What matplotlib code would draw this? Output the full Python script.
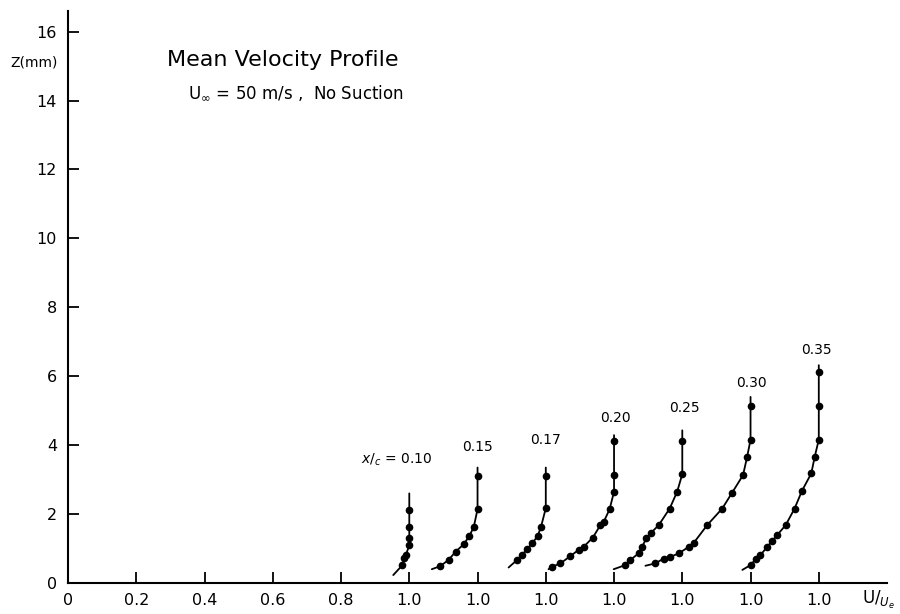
import matplotlib
matplotlib.use("Agg")
import matplotlib.pyplot as plt

# Station labels (x/c) and the U/Ue = 1.0 position of each shifted profile
stations = ["0.10", "0.15", "0.17", "0.20", "0.25", "0.30", "0.35"]
offsets = [0.0, 0.2, 0.4, 0.6, 0.8, 1.0, 1.2]

# Each profile: U/Ue and Z (mm); first and last entries are the ends of the
# drawn curve, the rest are measured points.
u_010 = [0.953, 0.98, 0.985, 0.99, 1.0, 1.0, 1.0, 1.0, 1.0]
z_010 = [0.23, 0.52, 0.72, 0.81, 1.10, 1.30, 1.62, 2.12, 2.60]

u_015 = [0.866, 0.891, 0.915, 0.936, 0.959, 0.976, 0.989, 1.0, 1.0, 1.0]
z_015 = [0.40, 0.49, 0.67, 0.91, 1.12, 1.36, 1.63, 2.14, 3.11, 3.35]

u_017 = [0.891, 0.916, 0.93, 0.945, 0.96, 0.976, 0.986, 1.0, 1.0, 1.0]
z_017 = [0.45, 0.67, 0.81, 0.98, 1.15, 1.36, 1.63, 2.17, 3.11, 3.35]

u_020 = [0.808, 0.818, 0.843, 0.872, 0.896, 0.911, 0.938, 0.96, 0.970, 0.987,
         1.0, 1.0, 1.0, 1.0]
z_020 = [0.40, 0.47, 0.57, 0.78, 0.96, 1.05, 1.32, 1.68, 1.78, 2.14,
         2.65, 3.13, 4.12, 4.29]

u_025 = [0.799, 0.833, 0.848, 0.872, 0.882, 0.895, 0.907, 0.931, 0.963, 0.985,
         1.0, 1.0, 1.0]
z_025 = [0.40, 0.52, 0.67, 0.86, 1.05, 1.30, 1.44, 1.68, 2.16, 2.65,
         3.16, 4.12, 4.43]

u_030 = [0.692, 0.721, 0.746, 0.765, 0.790, 0.819, 0.834, 0.873, 0.917, 0.946,
         0.978, 0.990, 1.0, 1.0, 1.0]
z_030 = [0.50, 0.57, 0.71, 0.76, 0.86, 1.05, 1.17, 1.68, 2.16, 2.62,
         3.13, 3.66, 4.16, 5.13, 5.40]

u_035 = [0.776, 0.800, 0.815, 0.829, 0.849, 0.864, 0.878, 0.903, 0.929, 0.951,
         0.978, 0.988, 1.0, 1.0, 1.0, 1.0]
z_035 = [0.38, 0.52, 0.69, 0.81, 1.05, 1.23, 1.39, 1.68, 2.16, 2.68,
         3.18, 3.66, 4.16, 5.13, 6.12, 6.32]

profiles_u = [u_010, u_015, u_017, u_020, u_025, u_030, u_035]
profiles_z = [z_010, z_015, z_017, z_020, z_025, z_030, z_035]

x_tick_pos = [0.0, 0.2, 0.4, 0.6, 0.8, 1.0, 1.2, 1.4, 1.6, 1.8, 2.0, 2.2]
x_tick_lab = ["0", "0.2", "0.4", "0.6", "0.8", "1.0", "1.0", "1.0", "1.0",
              "1.0", "1.0", "1.0"]
y_ticks = [0, 2, 4, 6, 8, 10, 12, 14, 16]

# Label centre (U/Ue offset from profile's 1.0, Z) for each station label
label_du = [-0.038, 0.0, 0.0, 0.004, 0.006, 0.003, -0.006]
label_z = [3.57, 3.95, 4.16, 4.80, 5.09, 5.81, 6.77]

plt.rcParams["font.family"] = ["DejaVu Sans"]

fig = plt.figure(figsize=(9.0, 6.14), dpi=100)
ax = fig.add_axes([0.0756, 0.0505, 0.91, 0.9316])
ax.set_xlim(0, 2.40)
ax.set_ylim(0, 16.6)

for off, us, zs, st, du, lz in zip(offsets, profiles_u, profiles_z, stations,
                                   label_du, label_z):
    xs = [u + off for u in us]
    ax.plot(xs, zs, color="black", lw=1.3, marker="o", ms=4.5,
            markevery=slice(1, len(xs) - 1), solid_capstyle="round")
    text = st if st != "0.10" else r"$x/_{c}$ = " + st
    ax.text(1.0 + off + du, lz, text, ha="center", va="center",
            fontsize=10)

for side in ("top", "right"):
    ax.spines[side].set_visible(False)
for side in ("left", "bottom"):
    ax.spines[side].set_linewidth(1.5)

ax.set_xticks(x_tick_pos)
ax.set_xticklabels(x_tick_lab)
ax.set_yticks(y_ticks)
ax.tick_params(axis="both", direction="in", length=8, width=1.3,
               labelsize=11.5)
ax.tick_params(axis="x", pad=7)
ax.tick_params(axis="y", pad=8)

fig.text(0.012, 0.899, "Z(mm)", fontsize=10, va="center", ha="left")
fig.text(0.958, 0.023, r"U/$_{U_e}$", fontsize=12, ha="left", va="center")

fig.text(0.186, 0.902, "Mean Velocity Profile", fontsize=16,
         ha="left", va="center")
fig.text(0.209, 0.849, r"U$_\infty$ = 50 m/s ,  No Suction", fontsize=12,
         ha="left", va="center")

fig.savefig("out.png", dpi=100)
